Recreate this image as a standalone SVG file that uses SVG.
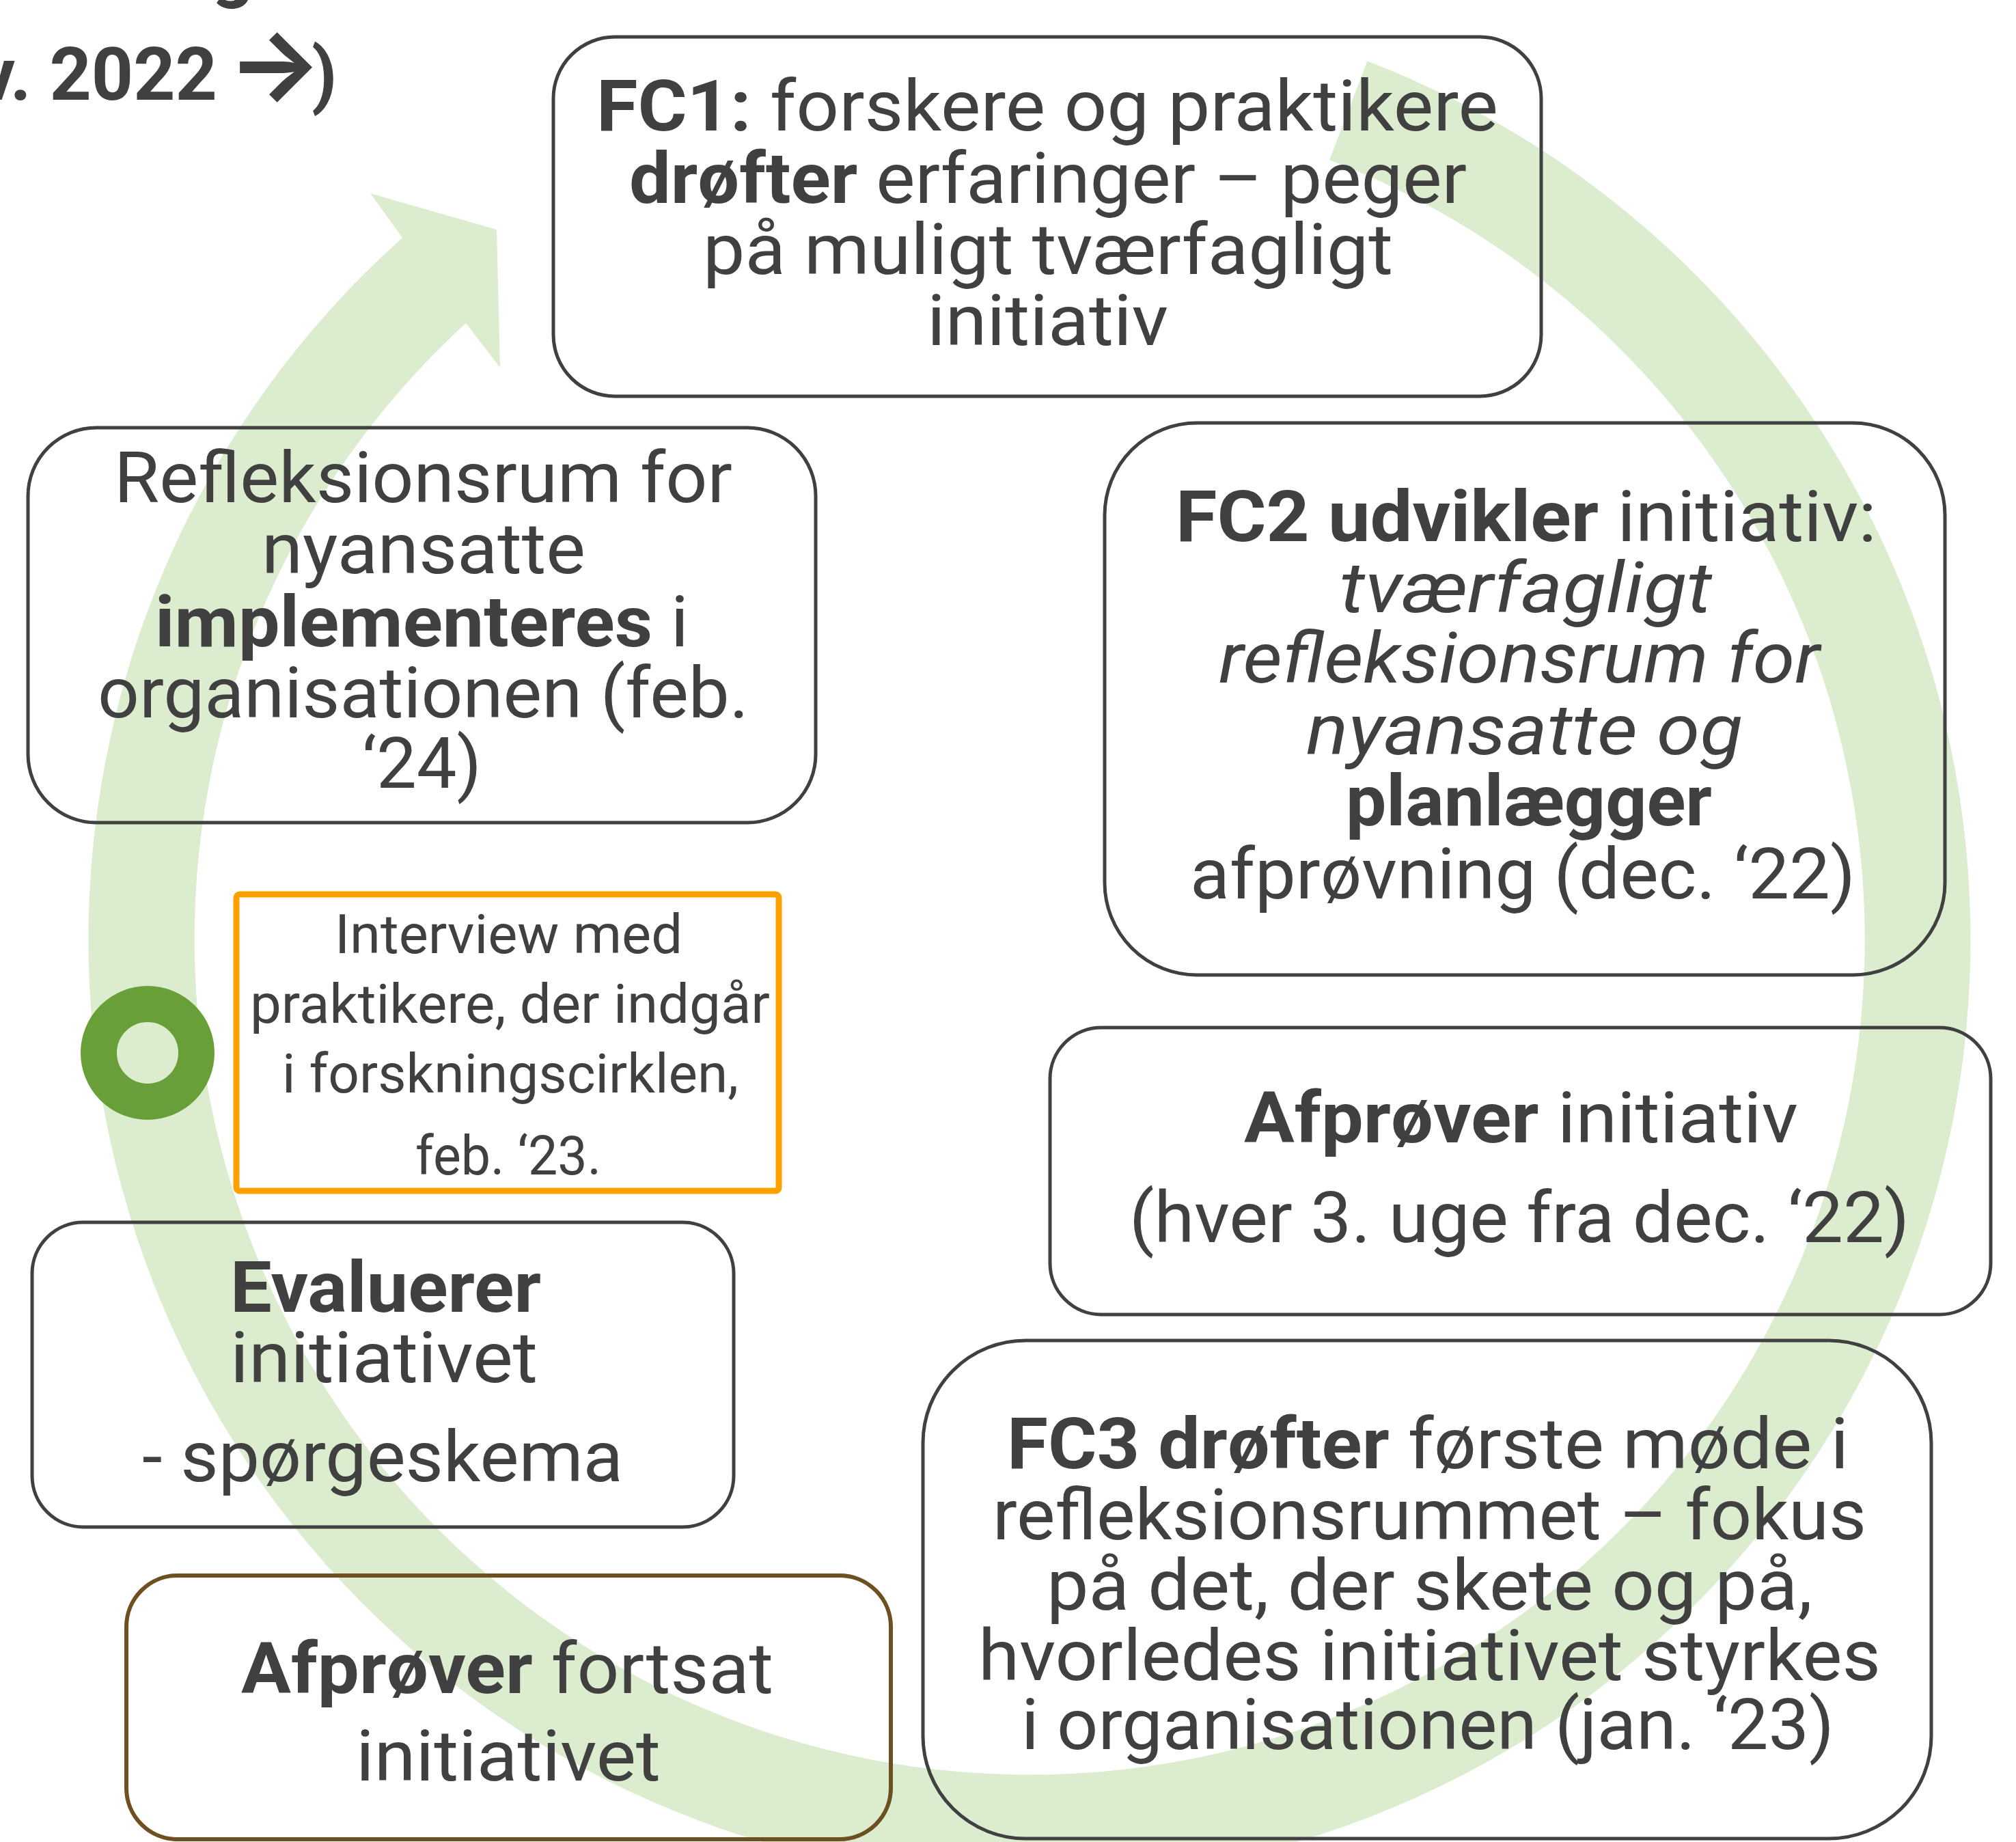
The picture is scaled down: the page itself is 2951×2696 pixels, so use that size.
<svg xmlns="http://www.w3.org/2000/svg" width="2951" height="2696" viewBox="0 0 2951 2696">
<style>
.t{font-family:Roboto,"Liberation Sans","DejaVu Sans",sans-serif;font-size:104px;fill:#404040}
.s{font-size:80px}
.b{font-weight:700}
.i{font-style:italic}
.h{font-size:107px}
.box{fill:none;stroke:#404040;stroke-width:5}
</style>
<rect width="2951" height="2696" fill="#ffffff"/>
<g id="connectors">
<path id="cycle-arrow" fill="#DCEDCF" d="M 2001.5 89.4 A 1377.5 1377.5 0 1 1 589 348 L 542 283 L 727 336 L 732 538 L 682 473 A 1222.5 1222.5 0 1 0 1946 234 Z"/>
</g>
<g id="title">
<text class="t b h" x="310" y="-9">g</text>
<text class="t b h" x="318" y="146" text-anchor="end">v. 2022</text>
<text class="t b" x="333" y="145" style="font-family:Inter,'DejaVu Sans',sans-serif;font-size:145px">→</text>
<text class="t b h" x="456" y="146">)</text>
</g>
<g id="marker">
<circle cx="216" cy="1541" r="71.5" fill="none" stroke="#689F38" stroke-width="53"/>
</g>
<g id="fc1">
<rect class="box" x="810" y="54" width="1446" height="526" rx="90"/>
<text class="t" x="873" y="191" textLength="1320" lengthAdjust="spacingAndGlyphs"><tspan class="b">FC1:</tspan> forskere og praktikere</text>
<text class="t" x="921" y="297" textLength="1226" lengthAdjust="spacingAndGlyphs"><tspan class="b">drøfter</tspan> erfaringer – peger</text>
<text class="t" x="1029" y="401" textLength="1010" lengthAdjust="spacingAndGlyphs">på muligt tværfagligt</text>
<text class="t" x="1357" y="505" textLength="353" lengthAdjust="spacingAndGlyphs">initiativ</text>
</g>
<g id="implementering">
<rect class="box" x="41" y="626" width="1153" height="578" rx="100"/>
<text class="t" x="167" y="735" textLength="905" lengthAdjust="spacingAndGlyphs">Refleksionsrum for</text>
<text class="t" x="383" y="839" textLength="474" lengthAdjust="spacingAndGlyphs">nyansatte</text>
<text class="t" x="227" y="946" textLength="781" lengthAdjust="spacingAndGlyphs"><tspan class="b">implementeres</tspan> i</text>
<text class="t" x="143" y="1050" textLength="953" lengthAdjust="spacingAndGlyphs">organisationen (feb.</text>
<text class="t" x="530" y="1153" textLength="175" lengthAdjust="spacingAndGlyphs">‘24)</text>
</g>
<g id="fc2">
<rect class="box" x="1617" y="619" width="1230" height="808" rx="135"/>
<text class="t" x="1721" y="792" textLength="1026" lengthAdjust="spacingAndGlyphs"><tspan class="b">FC2 udvikler</tspan> initiativ:</text>
<text class="t i" x="1961" y="896" textLength="545" lengthAdjust="spacingAndGlyphs">tværfagligt</text>
<text class="t i" x="1784" y="999" textLength="880" lengthAdjust="spacingAndGlyphs">refleksionsrum for</text>
<text class="t i" x="1912" y="1104" textLength="639" lengthAdjust="spacingAndGlyphs">nyansatte og</text>
<text class="t b" x="1970" y="1208" textLength="536" lengthAdjust="spacingAndGlyphs">planlægger</text>
<text class="t" x="1742" y="1315" textLength="974" lengthAdjust="spacingAndGlyphs">afprøvning (dec. ‘22)</text>
</g>
<g id="afproever">
<rect class="box" x="1537" y="1504" width="1377" height="420" rx="75"/>
<text class="t" x="1821" y="1672" textLength="811" lengthAdjust="spacingAndGlyphs"><tspan class="b">Afprøver</tspan> initiativ</text>
<text class="t" x="1653" y="1818" textLength="1142" lengthAdjust="spacingAndGlyphs">(hver 3. uge fra dec. ‘22)</text>
</g>
<g id="fc3">
<rect class="box" x="1351" y="1962" width="1476" height="729" rx="150"/>
<text class="t" x="1474" y="2149" textLength="1232" lengthAdjust="spacingAndGlyphs"><tspan class="b">FC3 drøfter</tspan> første møde i</text>
<text class="t" x="1453" y="2253" textLength="1279" lengthAdjust="spacingAndGlyphs">refleksionsrummet – fokus</text>
<text class="t" x="1532" y="2356" textLength="1121" lengthAdjust="spacingAndGlyphs">på det, der skete og på,</text>
<text class="t" x="1432" y="2459" textLength="1321" lengthAdjust="spacingAndGlyphs">hvorledes initiativet styrkes</text>
<text class="t" x="1495" y="2560" textLength="1190" lengthAdjust="spacingAndGlyphs">i organisationen (jan. ‘23)</text>
</g>
<g id="evaluerer">
<rect class="box" x="47" y="1789" width="1027" height="446" rx="75"/>
<text class="t b" x="337" y="1920" textLength="455" lengthAdjust="spacingAndGlyphs">Evaluerer</text>
<text class="t" x="337" y="2023" textLength="450" lengthAdjust="spacingAndGlyphs">initiativet</text>
<text class="t" x="208" y="2168" textLength="704" lengthAdjust="spacingAndGlyphs">- spørgeskema</text>
</g>
<g id="interview">
<rect x="346" y="1309" width="794" height="434" rx="5" fill="none" stroke="#FFA000" stroke-width="9"/>
<text class="t s" x="490" y="1395" textLength="509" lengthAdjust="spacingAndGlyphs">Interview med</text>
<text class="t s" x="366" y="1497" textLength="761" lengthAdjust="spacingAndGlyphs">praktikere, der indgår</text>
<text class="t s" x="413" y="1599" textLength="668" lengthAdjust="spacingAndGlyphs">i forskningscirklen,</text>
<text class="t s" x="608" y="1719" textLength="272" lengthAdjust="spacingAndGlyphs">feb. ‘23.</text>
</g>
<g id="fortsat">
<rect x="185" y="2306" width="1119" height="386" rx="75" fill="none" stroke="#6E5020" stroke-width="6"/>
<text class="t" x="353" y="2478" textLength="779" lengthAdjust="spacingAndGlyphs"><tspan class="b">Afprøver</tspan> fortsat</text>
<text class="t" x="521" y="2606" textLength="446" lengthAdjust="spacingAndGlyphs">initiativet</text>
</g>
</svg>
